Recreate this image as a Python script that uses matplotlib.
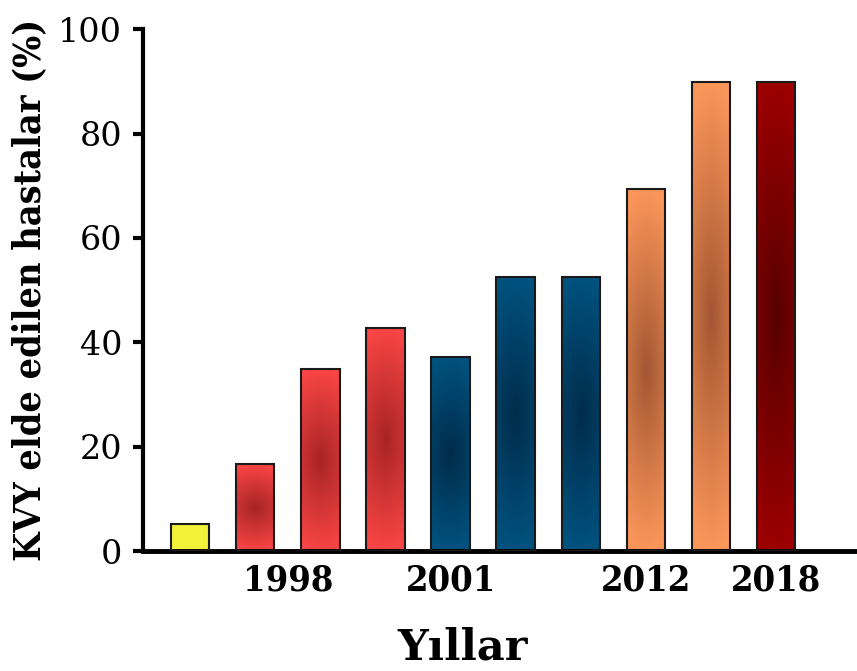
import numpy as np
import matplotlib
matplotlib.use("Agg")
import matplotlib.pyplot as plt
from matplotlib.colors import to_rgb

# data
values = [5.2, 16.6, 34.8, 42.8, 37.2, 52.5, 52.6, 69.4, 89.9, 89.9]
tick_pos = [1.5, 4, 7, 9]
tick_labels = ["1998", "2001", "2012", "2018"]
ylabel = "KVY elde edilen hastalar (%)"
xlabel = "Yıllar"

# gradient colours per bar (outer / centre)
edge_colors = ["#f2f23a", "#f84545", "#f84545", "#f84545", "#00527f", "#00527f",
               "#00527f", "#fb965a", "#fb965a", "#9c0000"]
center_colors = ["#f2f23a", "#a82424", "#a82424", "#a82424", "#002c4a", "#002c4a",
                 "#002c4a", "#a25632", "#a25632", "#560000"]

plt.rcParams["font.family"] = ["DejaVu Serif"]

fig = plt.figure(figsize=(8.57, 6.71), dpi=100)
ax = fig.add_axes([0.1669, 0.1788, 0.8331, 0.7778])

x = np.arange(len(values))
bars = ax.bar(x, values, width=0.59, color="none", edgecolor="#1a1a1a",
              linewidth=1.5, zorder=3)

# elliptical radial gradient, darker at the centre of each bar
gx = np.linspace(-1, 1, 80)
gy = np.linspace(-1, 1, 300)
GX, GY = np.meshgrid(gx, gy)
r = np.clip(np.sqrt((GX * 0.45) ** 2 + GY ** 2), 0, 1)[..., None]

for bar, c_in, c_out in zip(bars, center_colors, edge_colors):
    c_in = np.array(to_rgb(c_in))
    c_out = np.array(to_rgb(c_out))
    img = c_in + (c_out - c_in) * r
    x0, w, h = bar.get_x(), bar.get_width(), bar.get_height()
    im = ax.imshow(img, extent=(x0, x0 + w, 0, h), aspect="auto",
                   origin="lower", interpolation="bilinear", zorder=2)
    im.set_clip_path(bar)

ax.set_xlim(-0.722, 10.24)
ax.set_ylim(0, 100)

for s in ["top", "right"]:
    ax.spines[s].set_visible(False)
ax.spines["left"].set_linewidth(3)
ax.spines["bottom"].set_linewidth(3.5)

ax.set_yticks([0, 20, 40, 60, 80, 100])
ax.tick_params(axis="y", length=7, width=3, pad=8, labelsize=24)
ax.set_xticks(tick_pos)
ax.set_xticklabels(tick_labels, fontsize=26, fontweight="bold",
                   fontstretch="condensed")
ax.tick_params(axis="x", length=0, pad=9)

ax.set_ylabel(ylabel, fontsize=27, fontweight="bold", fontstretch="condensed")
ax.yaxis.set_label_coords(-0.133, 0.5)
ax.set_xlabel(xlabel, fontsize=31, fontweight="bold")
ax.xaxis.set_label_coords(0.447, -0.145)
ax.xaxis.label.set_va("top")

fig.savefig("out.png", dpi=100)
